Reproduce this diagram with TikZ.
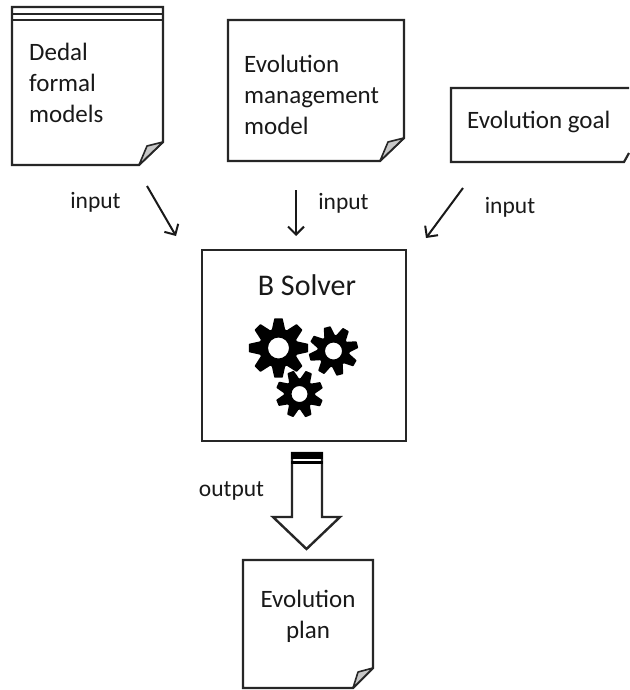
\documentclass[tikz,border=0pt]{standalone}
\usepackage{fontspec}
\setmainfont{Carlito}
\usetikzlibrary{arrows.meta}
\newcommand{\gearicon}[6]{%
\fill[black,even odd rule,rounded corners=0.6pt] \foreach \i in {0,...,7}{
  \ifnum\i=0 ([shift={(#1,#2)}]{#6+45*\i-20}:#4) \else -- ([shift={(#1,#2)}]{#6+45*\i-20}:#4) \fi
  -- ([shift={(#1,#2)}]{#6+45*\i-8}:#3)
  -- ([shift={(#1,#2)}]{#6+45*\i+8}:#3)
  -- ([shift={(#1,#2)}]{#6+45*\i+20}:#4)} -- cycle
  (#1,#2) circle[radius=#5];}
\tikzset{
  x=1pt,y=-1pt,
  doc/.style={draw=black!85,line width=2.2pt,fill=white,line join=miter},
  fold/.style={draw=black!85,line width=1.6pt,fill=black!22,line join=round},
  solver/.style={draw=black!85,line width=2pt,fill=white,inner sep=0pt,outer sep=0pt,anchor=north west,minimum width=204pt,minimum height=191pt},
  flow/.style={draw=black!90,line width=2pt,-{Straight Barb[length=8pt,width=16pt,line width=2pt]}},
  lbl/.style={font=\fontsize{23.5}{26}\selectfont,text=black!90,inner sep=0pt},
  doctext/.style={font=\fontsize{25}{31}\selectfont,text=black!90,inner sep=0pt,align=left,anchor=west},
}
\begin{document}
\begin{tikzpicture}
\useasboundingbox[fill=white] (0,0) rectangle (629,690);
% documents
\draw[doc] (12,7) -- (163,7) -- (163,142) -- (139,165) -- (12,165) -- cycle;
\draw[doc,line width=1.8pt] (12,14) -- (163,14) (12,20) -- (163,20);
\draw[fold] (139,165) -- (147,146) -- (163,142) -- cycle;
\node[doctext] (dedal) at (29,83) {Dedal\\formal\\models};

\draw[doc] (228,20) -- (404,20) -- (404,138) -- (380,161) -- (228,161) -- cycle;
\draw[fold] (380,161) -- (388,142) -- (404,138) -- cycle;
\node[doctext] (mgmt) at (244,95) {Evolution\\management\\model};

\draw[doc] (629,88) -- (451,88) -- (451,162) -- (624,162) -- (629,153);
\node[doctext] (goal) at (467,121.5) {Evolution goal};

\draw[doc] (243,560) -- (373,560) -- (373,668) -- (353,688) -- (243,688) -- cycle;
\draw[fold] (353,688) -- (358,672) -- (373,668) -- cycle;
\node[doctext,align=center,anchor=center] (plan) at (308,616.5) {Evolution\\plan};

% solver
\node[solver] (solver) at (202,250) {};
\node[font=\fontsize{30}{34}\selectfont,text=black!90,inner sep=0pt] (title) at (307,285) {B Solver};
\gearicon{278.5}{348}{30}{19.5}{10.5}{90}
\gearicon{333.5}{351}{25}{16}{8.5}{75}
\gearicon{299.5}{394}{24}{15.5}{8}{68}

% input arrows
\coordinate (a1) at (147,186); \coordinate (b1) at (176,236);
\coordinate (a2) at (296,190); \coordinate (b2) at (296,236);
\coordinate (a3) at (463,188); \coordinate (b3) at (426,238);
\draw[flow] (a1) -- (b1);
\draw[flow] (a2) -- (b2);
\draw[flow] (a3) -- (b3);
\node[lbl] (in1) at (95.5,202) {input};
\node[lbl] (in2) at (343.5,203) {input};
\node[lbl] (in3) at (510,207) {input};

% output arrow
\draw[doc,line width=2.4pt] (292,453) -- (322,453) -- (322,517) -- (340,517) -- (306.5,549) -- (273,517) -- (292,517) -- cycle;
\fill[black] (291,452) rectangle (323,459);
\fill[black] (291,461) rectangle (323,464);
\node[lbl] (out) at (231.5,491) {output};
\end{tikzpicture}
\end{document}
